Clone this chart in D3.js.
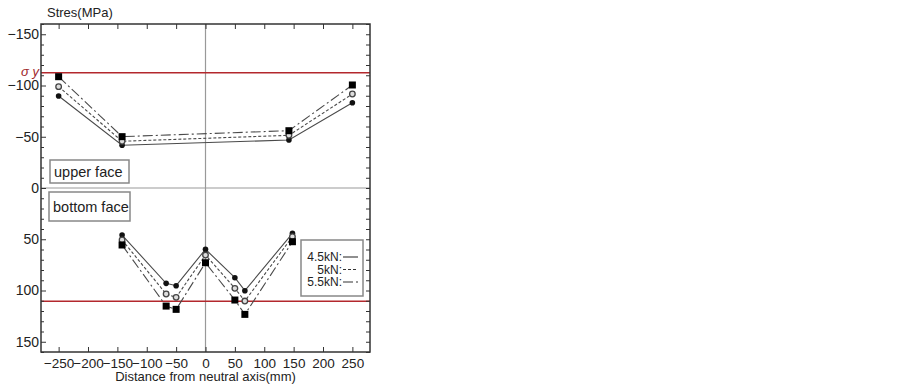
<!DOCTYPE html>
<html>
<head>
<meta charset="utf-8">
<script src="https://cdn.jsdelivr.net/npm/d3@7"></script>
<style>
body { margin: 0; background: #fff; }
text { font-family: "Liberation Sans", Arial, sans-serif; fill: #222; }
.axis path { display: none; }
.axis line { stroke: #333; }
.axis text { font-size: 14px; }
.xaxis text { font-size: 13.5px; }
</style>
</head>
<body>
<div id="chart"></div>
<script>
var w = 903;
var h = 390;

// values (MPa)
var upperX = [-250, -142, 142, 250];
var upper45 = [-89.8, -41.7, -46.8, -83.2];
var upper50 = [-98.9, -45.6, -51.4, -91.7];
var upper55 = [-108.6, -50.1, -55.9, -100.5];

var bottomX = [-142, -67, -50, 0, 50, 67, 148];
var bottom45 = [45.9, 93, 95.3, 59.8, 87.5, 100.2, 44.2];
var bottom50 = [50.7, 103.4, 106.7, 65.4, 97.9, 110.3, 47.5];
var bottom55 = [55.6, 115.2, 118.4, 72.9, 109.3, 123.3, 52.4];

var sigmaY = [-112.5, 110.5];
var xTicks = [-250, -200, -150, -100, -50, 0, 50, 100, 150, 200, 250];
var yTicks = [-150, -100, -50, 0, 50, 100, 150];
var seriesNames = ["4.5kN:", "5kN:", "5.5kN:"];

var svg = d3.select("#chart").append("svg").attr("width", w).attr("height", h);
svg.append("rect").attr("width", w).attr("height", h).attr("fill", "#fff");

// plot frame edges
var pLeft = 41, pRight = 370, pTop = 24, pBottom = 352;
var xScale = d3.scaleLinear().domain([-280, 280]).range([pLeft, pRight]);
var yScale = d3.scaleLinear().domain([-160, 160]).range([pTop, pBottom]);

// zero lines
svg.append("line").attr("x1", xScale(0)).attr("x2", xScale(0)).attr("y1", pTop).attr("y2", pBottom)
    .style("stroke", "#999").style("stroke-width", 1.2);
svg.append("line").attr("x1", pLeft).attr("x2", pRight).attr("y1", yScale(0)).attr("y2", yScale(0))
    .style("stroke", "#999").style("stroke-width", 1.2);

// yield lines
sigmaY.forEach(function(s) {
    svg.append("line").attr("x1", pLeft).attr("x2", pRight).attr("y1", yScale(s)).attr("y2", yScale(s))
        .style("stroke", "#b3282d").style("stroke-width", 1.5);
});

// axes
var minorY = d3.range(-160, 161, 10).filter(function(d) { return d % 50 != 0; });
var fmt = function(d) { return d < 0 ? "\u2212" + Math.abs(d) : "" + d; };

svg.append("g").attr("class", "axis xaxis").attr("transform", "translate(0," + pBottom + ")")
    .call(d3.axisBottom(xScale).tickValues(xTicks).tickSizeInner(-5).tickSizeOuter(0).tickPadding(6).tickFormat(fmt));
svg.append("g").attr("class", "axis").attr("transform", "translate(0," + pTop + ")")
    .call(d3.axisTop(xScale).tickValues(xTicks).tickSizeInner(-5).tickSizeOuter(0).tickFormat(""));
svg.append("g").attr("class", "axis").attr("transform", "translate(" + pLeft + ",0)")
    .call(d3.axisLeft(yScale).tickValues(yTicks).tickSizeInner(-5).tickSizeOuter(0).tickPadding(2).tickFormat(fmt));
svg.append("g").attr("class", "axis").attr("transform", "translate(" + pLeft + ",0)")
    .call(d3.axisLeft(yScale).tickValues(minorY).tickSizeInner(-3).tickSizeOuter(0).tickFormat(""));
svg.append("g").attr("class", "axis").attr("transform", "translate(" + pRight + ",0)")
    .call(d3.axisRight(yScale).tickValues(yTicks.concat(minorY)).tickSizeInner(-4).tickSizeOuter(0).tickFormat(""));

// sigma y label
svg.append("text").attr("x", 39).attr("y", yScale(sigmaY[0]) + 3.5).attr("text-anchor", "end")
    .style("font-size", "13px").style("fill", "#a0262a").style("font-style", "italic").text("\u03C3 y");

// frame
svg.append("rect").attr("x", pLeft).attr("y", pTop).attr("width", pRight - pLeft).attr("height", pBottom - pTop)
    .attr("fill", "none").style("stroke", "#333").style("stroke-width", 1.5);

// series
var styles = [
    { dash: null, marker: "dot" },
    { dash: "3,2", marker: "circle" },
    { dash: "10,3,2,3", marker: "square" }
];

function drawSeries(xs, ys, st) {
    var pts = xs.map(function(x, i) { return [x, ys[i]]; });
    var line = d3.line()
        .x(function(d) { return xScale(d[0]); })
        .y(function(d) { return yScale(d[1]); });
    svg.append("path").datum(pts).attr("d", line).attr("fill", "none")
        .style("stroke", "#4a4a4a").style("stroke-width", 1.1)
        .style("stroke-dasharray", st.dash);
    pts.forEach(function(p) {
        var cx = xScale(p[0]), cy = yScale(p[1]);
        if (st.marker == "dot") {
            svg.append("circle").attr("cx", cx).attr("cy", cy).attr("r", 2.8).attr("fill", "#111");
        } else if (st.marker == "circle") {
            svg.append("circle").attr("cx", cx).attr("cy", cy).attr("r", 2.8)
                .attr("fill", "#ddd").style("stroke", "#444").style("stroke-width", 1.3);
        } else {
            svg.append("rect").attr("x", cx - 3.5).attr("y", cy - 3.5).attr("width", 7).attr("height", 7).attr("fill", "#000");
        }
    });
}

drawSeries(upperX, upper45, styles[0]);
drawSeries(upperX, upper50, styles[1]);
drawSeries(upperX, upper55, styles[2]);
drawSeries(bottomX, bottom45, styles[0]);
drawSeries(bottomX, bottom50, styles[1]);
drawSeries(bottomX, bottom55, styles[2]);

// face labels
svg.append("rect").attr("x", 50).attr("y", 160).attr("width", 79).attr("height", 23)
    .attr("fill", "#fff").style("stroke", "#888").style("stroke-width", 1.5);
svg.append("text").attr("x", 54).attr("y", 177).style("font-size", "14.5px").text("upper face");
svg.append("rect").attr("x", 49).attr("y", 192).attr("width", 81).attr("height", 29)
    .attr("fill", "#fff").style("stroke", "#888").style("stroke-width", 1.5);
svg.append("text").attr("x", 53).attr("y", 212).style("font-size", "14.5px").text("bottom face");

// legend
svg.append("rect").attr("x", 301).attr("y", 240).attr("width", 62).attr("height", 56)
    .attr("fill", "#fff").style("stroke", "#888").style("stroke-width", 1.5);
seriesNames.forEach(function(n, i) {
    var ly = 257 + i * 12.5;
    svg.append("text").attr("x", 342).attr("y", ly + 4).attr("text-anchor", "end")
        .style("font-size", "12px").text(n);
    svg.append("line").attr("x1", 343).attr("x2", 358).attr("y1", ly).attr("y2", ly)
        .style("stroke", "#333").style("stroke-width", 1.1).style("stroke-dasharray", styles[i].dash);
});

// axis titles
svg.append("text").attr("x", 47).attr("y", 17).style("font-size", "13px").text("Stres(MPa)");
svg.append("text").attr("x", xScale(0)).attr("y", 381).attr("text-anchor", "middle")
    .style("font-size", "13px").text("Distance from neutral axis(mm)");
</script>
</body>
</html>
